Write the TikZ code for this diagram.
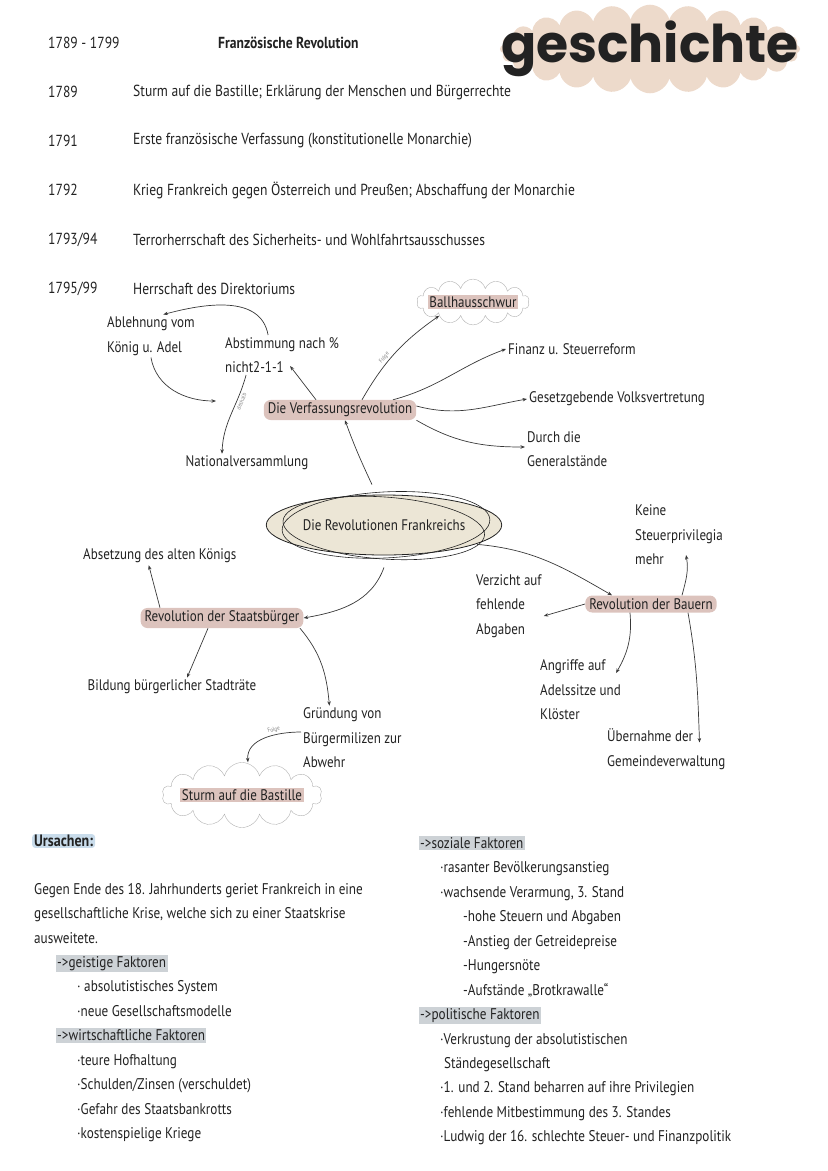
\documentclass[tikz,border=0pt]{standalone}
\usepackage{fontspec}
\setmainfont{PT Sans}[FakeStretch=0.85]
\newfontfamily\titlefont{Poppins}
\usetikzlibrary{arrows.meta,shapes.symbols,shapes.geometric}

\definecolor{ink}{HTML}{222222}
\definecolor{peach}{HTML}{EDDACB}
\definecolor{hlpink}{HTML}{DCC3BD}
\definecolor{hlgray}{HTML}{CDD2D6}
\definecolor{hlblue}{HTML}{C9DCEB}
\definecolor{beige}{HTML}{ECE6D6}

\newcommand{\hlgrau}[1]{{\setlength{\fboxsep}{1.5pt}\hspace*{-1.5pt}\colorbox{hlgray}{#1}}}
\newcommand{\hlrosa}[1]{{\setlength{\fboxsep}{1.5pt}\colorbox{hlpink}{#1}}}

\begin{document}
\begin{tikzpicture}[x=1pt, y=1pt, >={Stealth[length=4.5pt,width=3.5pt]},
    every node/.style={text=ink, inner sep=2pt},
    zeile/.style={anchor=west, font=\fontsize{16}{19}\selectfont},
    mm/.style={font=\fontsize{15.3}{24.5}\selectfont, align=left},
    rosa/.style={mm, fill=hlpink, rounded corners=7pt, inner xsep=4pt, inner ysep=3pt},
    wolke/.style={cloud, cloud puffs=14, aspect=4, draw=gray!60, fill=white, inner xsep=-6pt, inner ysep=-2pt, mm},
    klein/.style={font=\fontsize{6}{7}\selectfont, text=gray},
    pfeil/.style={->, draw=ink!90, line width=0.7pt},
    koerper/.style={anchor=west, font=\fontsize{15.5}{24.45}\selectfont, align=left}]
  \useasboundingbox (0,0) rectangle (828,-1171);

  % Kopf
  \node[cloud, cloud puffs=24, cloud puff arc=150, aspect=5, fill=peach, inner xsep=-44pt, inner ysep=-34pt,
        font=\titlefont\bfseries\fontsize{52}{52}\selectfont] (logo) at (650,-49) {geschichte};
  \node[zeile] (jahre) at (46,-43) {1789 - 1799};
  \node[zeile, font=\bfseries\fontsize{16}{19}\selectfont] (titel) at (216,-43) {Französische Revolution};

  \node[zeile] (j1) at (46,-92) {1789};
  \node[zeile] (t1) at (131,-92) {Sturm auf die Bastille; Erklärung der Menschen und Bürgerrechte};
  \node[zeile] (j2) at (46,-141) {1791};
  \node[zeile] (t2) at (131,-141) {Erste französische Verfassung (konstitutionelle Monarchie)};
  \node[zeile] (j3) at (46,-190) {1792};
  \node[zeile] (t3) at (131,-190) {Krieg Frankreich gegen Österreich und Preußen; Abschaffung der Monarchie};
  \node[zeile] (j4) at (46,-240) {1793/94};
  \node[zeile] (t4) at (131,-240) {Terrorherrschaft des Sicherheits- und Wohlfahrtsausschusses};
  \node[zeile] (j5) at (46,-289) {1795/99};
  \node[zeile] (t5) at (131,-289) {Herrschaft des Direktoriums};

  % Mindmap
  \node[ellipse, draw=ink, fill=beige, line width=0.8pt, minimum width=202pt, minimum height=60pt, mm] (rev) at (384,-525) {Die Revolutionen Frankreichs};
  \draw[ink, line width=0.6pt, rotate around={3:(rev.center)}] ([xshift=2pt]rev.center) ellipse [x radius=104pt, y radius=33pt];
  \draw[ink, line width=0.6pt, rotate around={-4:(rev.center)}] ([yshift=-3pt]rev.center) ellipse [x radius=101pt, y radius=31pt];

  \node[rosa] (verf) at (340,-410) {Die Verfassungsrevolution};
  \node[wolke] (ball) at (473,-302) {\hlrosa{Ballhausschwur}};
  \node[mm, anchor=west] (ablehn) at (105,-336) {Ablehnung vom\\König u. Adel};
  \node[mm, anchor=west] (abst) at (223,-355) {Abstimmung nach \%\\nicht2-1-1};
  \node[mm] (natv) at (247,-463) {Nationalversammlung};
  \node[mm, anchor=west] (fin) at (506,-349) {Finanz u. Steuerreform};
  \node[mm, anchor=west] (gesetz) at (527,-399) {Gesetzgebende Volksvertretung};
  \node[mm, anchor=west] (durch) at (525,-449) {Durch die\\Generalstände};

  \node[mm, anchor=west] (keine) at (633,-535) {Keine\\Steuerprivilegia\\mehr};
  \node[mm, anchor=west] (absetz) at (81,-556) {Absetzung des alten Königs};
  \node[mm, anchor=west] (verz) at (474,-606) {Verzicht auf\\fehlende\\Abgaben};
  \node[rosa] (bauern) at (651,-604) {Revolution der Bauern};
  \node[rosa] (staat) at (222,-618) {Revolution der Staatsbürger};
  \node[mm] (bild) at (172,-687) {Bildung bürgerlicher Stadträte};
  \node[mm, anchor=west] (angr) at (538,-690) {Angriffe auf\\Adelssitze und\\Klöster};
  \node[mm, anchor=west] (grund) at (301,-738) {Gründung von\\Bürgermilizen zur\\Abwehr};
  \node[mm, anchor=west] (uebern) at (605,-749) {Übernahme der\\Gemeindeverwaltung};
  \node[wolke] (sturm) at (242,-795) {\hlrosa{Sturm auf die Bastille}};

  \coordinate (deshalb) at (216,-401);

  \draw[pfeil] (abst.125) to[out=100,in=15] (ablehn.60);
  \draw[pfeil] (ablehn.south) to[out=-80,in=180] (deshalb);
  \draw[pfeil] ([xshift=-36pt]abst.south) to[out=-105,in=88] node[klein, pos=0.3, sloped, below] {deshalb} ([xshift=-25pt]natv.north);
  \draw[pfeil] ([xshift=-24pt]verf.north) -- ([shift={(8pt,-11pt)}]abst.center);
  \draw[pfeil] ([xshift=22pt]verf.north) to[out=60,in=215] node[klein, pos=0.4, sloped, above] {Folge} (ball.south west);
  \draw[pfeil] ([xshift=53pt]verf.north) to[out=15,in=200] (fin.west);
  \draw[pfeil] ([yshift=4pt]verf.east) to[out=-15,in=190] (gesetz.west);
  \draw[pfeil] (verf.south east) to[out=-30,in=180] ([yshift=2pt]durch.west);
  \draw[pfeil] ([xshift=-12pt,yshift=10pt]rev.north) to[out=115,in=-70] ([xshift=5pt]verf.south);
  \draw[pfeil] ([xshift=2pt]rev.-12) to[out=-5,in=150] ([xshift=-39pt]bauern.north);
  \draw[pfeil] ([yshift=-12pt]rev.south) to[out=-110,in=10] (staat.east);
  \draw[pfeil] ([xshift=-62pt]staat.north) -- ([xshift=-11pt]absetz.south);
  \draw[pfeil] ([xshift=-14pt]staat.south) -- ([xshift=15pt]bild.north);
  \draw[pfeil] ([xshift=78pt]staat.south) to[out=-50,in=95] ([xshift=-23pt]grund.north);
  \draw[pfeil] ([yshift=6pt]grund.west) to[out=180,in=95] node[klein, pos=0.35, sloped, above] {Folge} ([xshift=6pt]sturm.north);
  \draw[pfeil] ([xshift=31pt]bauern.north) to[out=75,in=-80] ([shift={(7pt,-20pt)}]keine.center);
  \draw[pfeil] (bauern.west) -- ([yshift=-10pt]verz.east);
  \draw[pfeil] ([xshift=-21pt]bauern.south) to[out=-85,in=60] ([shift={(-7pt,17pt)}]angr.east);
  \draw[pfeil] ([xshift=37pt]bauern.south) to[out=-80,in=92] ([shift={(-28pt,-16pt)}]uebern.north east);

  % Ursachen
  \node[anchor=west, fill=hlblue, rounded corners=3pt, inner xsep=2pt, inner ysep=1pt,
        font=\bfseries\fontsize{16.5}{19}\selectfont] (urs) at (32,-841) {Ursachen:};
  \node[koerper] (links) at (32,-1012.5) {Gegen Ende des 18. Jahrhunderts geriet Frankreich in eine\\
    gesellschaftliche Krise, welche sich zu einer Staatskrise\\
    ausweitete.\\
    \hspace*{23pt}\hlgrau{->geistige Faktoren}\\
    \hspace*{43pt}· absolutistisches System\\
    \hspace*{43pt}·neue Gesellschaftsmodelle\\
    \hspace*{23pt}\hlgrau{->wirtschaftliche Faktoren}\\
    \hspace*{43pt}·teure Hofhaltung\\
    \hspace*{43pt}·Schulden/Zinsen (verschuldet)\\
    \hspace*{43pt}·Gefahr des Staatsbankrotts\\
    \hspace*{43pt}·kostenspielige Kriege};
  \node[koerper] (rechts) at (418,-990.5) {\hlgrau{->soziale Faktoren}\\
    \hspace*{20pt}·rasanter Bevölkerungsanstieg\\
    \hspace*{20pt}·wachsende Verarmung, 3. Stand\\
    \hspace*{43pt}-hohe Steuern und Abgaben\\
    \hspace*{43pt}-Anstieg der Getreidepreise\\
    \hspace*{43pt}-Hungersnöte\\
    \hspace*{43pt}-Aufstände „Brotkrawalle“\\
    \hlgrau{->politische Faktoren}\\
    \hspace*{20pt}·Verkrustung der absolutistischen\\
    \hspace*{24pt}Ständegesellschaft\\
    \hspace*{20pt}·1. und 2. Stand beharren auf ihre Privilegien\\
    \hspace*{20pt}·fehlende Mitbestimmung des 3. Standes\\
    \hspace*{20pt}·Ludwig der 16. schlechte Steuer- und Finanzpolitik};
\end{tikzpicture}
\end{document}
